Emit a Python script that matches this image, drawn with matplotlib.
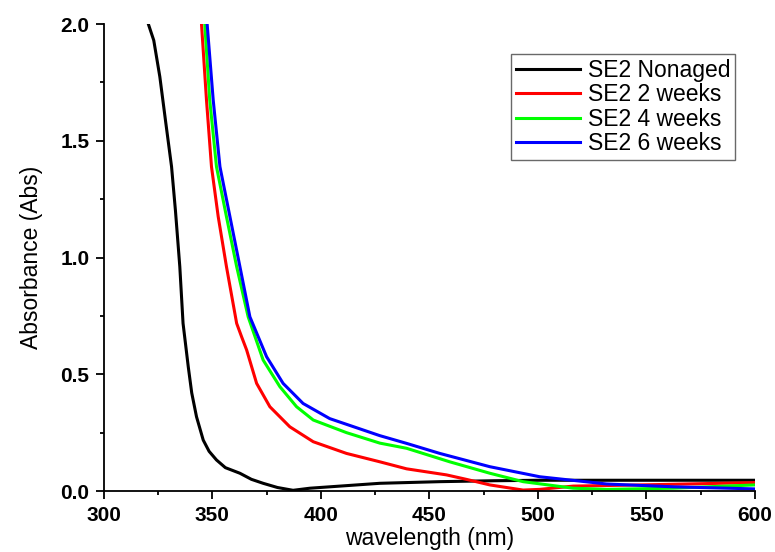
import numpy as np
import matplotlib.pyplot as plt
from matplotlib.ticker import MultipleLocator

plt.rcParams['font.family'] = ['Liberation Sans', 'DejaVu Sans']

# SE2 Nonaged
wl_0 = [320.5, 323, 325.8, 328.5, 331.2, 333, 335.0, 336.5, 338.9, 340.5, 342.7, 345.8, 348.5,
        351.9, 356, 362.7, 368, 373.4, 380, 387.2, 395, 408.8, 427.2, 454.8, 480, 500.9, 550, 600]
abs_0 = [2.0, 1.93, 1.774, 1.58, 1.389, 1.2, 0.961, 0.718, 0.532, 0.42, 0.318, 0.218, 0.17,
         0.133, 0.10, 0.076, 0.05, 0.033, 0.015, 0.003, 0.012, 0.021, 0.033, 0.040, 0.044, 0.046, 0.046, 0.046]

# SE2 2 weeks
wl_2 = [345, 347.3, 349.6, 352.7, 356.5, 361.2, 363.5, 365.8, 370.4, 376.5, 385.7, 396.5, 411.8,
        427.2, 439.5, 457.9, 467, 477.9, 493.2, 500.9, 516.3, 547, 600]
abs_2 = [2.0, 1.674, 1.389, 1.175, 0.961, 0.718, 0.66, 0.604, 0.461, 0.361, 0.275, 0.211, 0.161,
         0.125, 0.095, 0.069, 0.05, 0.026, 0.004, 0.007, 0.021, 0.026, 0.036]

# SE2 4 weeks
wl_4 = [346.5, 348.8, 351.9, 356.5, 361.2, 366.5, 373.4, 381.1, 388.8, 396.5, 411.8, 427.2,
        439.5, 459.4, 477.9, 493.2, 516.3, 531.7, 562.4, 600]
abs_4 = [2.0, 1.674, 1.389, 1.175, 0.961, 0.746, 0.561, 0.447, 0.361, 0.304, 0.250, 0.205,
         0.183, 0.125, 0.076, 0.040, 0.012, 0.007, 0.012, 0.026]

# SE2 6 weeks
wl_6 = [347.6, 350.4, 353.5, 358.1, 362.7, 367.3, 375.0, 382.6, 391.8, 404.1, 427.2, 439.5,
        454.8, 477.9, 500.9, 531.7, 562.4, 600]
abs_6 = [2.0, 1.674, 1.389, 1.175, 0.961, 0.746, 0.575, 0.461, 0.375, 0.310, 0.237, 0.204,
         0.161, 0.104, 0.061, 0.030, 0.018, 0.009]

fig = plt.figure(figsize=(7.75, 5.52), dpi=100)
ax = fig.add_axes([0.134, 0.1105, 0.84, 0.846])

ax.plot(wl_0, abs_0, color='black', lw=2.2, label='SE2 Nonaged')
ax.plot(wl_2, abs_2, color='#ff0000', lw=2.2, label='SE2 2 weeks')
ax.plot(wl_4, abs_4, color='#00ff00', lw=2.2, label='SE2 4 weeks')
ax.plot(wl_6, abs_6, color='#0000ff', lw=2.2, label='SE2 6 weeks')

ax.set_xlim(300, 600)
ax.set_ylim(0, 2.0)
ax.xaxis.set_major_locator(MultipleLocator(50))
ax.xaxis.set_minor_locator(MultipleLocator(25))
ax.yaxis.set_major_locator(MultipleLocator(0.5))
ax.yaxis.set_minor_locator(MultipleLocator(0.25))
ax.yaxis.set_major_formatter(plt.FormatStrFormatter('%.1f'))

for s in ['top', 'right']:
    ax.spines[s].set_visible(False)
for s in ['left', 'bottom']:
    ax.spines[s].set_linewidth(1.3)

ax.tick_params(which='major', direction='out', length=6, width=1.3, labelsize=15, pad=4.5)
ax.tick_params(which='minor', direction='out', length=3, width=1.3)
for lab in ax.get_xticklabels() + ax.get_yticklabels():
    lab.set_fontweight('bold')

ax.set_xlabel('wavelength (nm)', fontsize=16.5, labelpad=2)
ax.set_ylabel('Absorbance (Abs)', fontsize=16.5, labelpad=12)

leg = ax.legend(loc='upper right', bbox_to_anchor=(0.97, 0.935), fontsize=16.5,
                frameon=True, fancybox=False, edgecolor='#444444', borderaxespad=0,
                handlelength=2.8, handletextpad=0.35, borderpad=0.2, labelspacing=0.06)
leg.get_frame().set_linewidth(1)

fig.savefig('out.png', dpi=100)
